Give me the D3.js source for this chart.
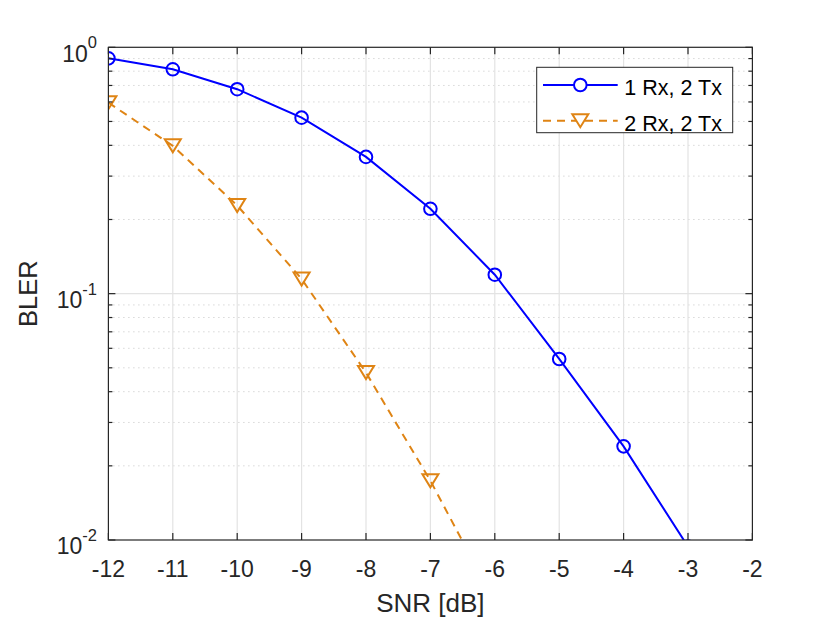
<!DOCTYPE html>
<html>
<head>
<meta charset="utf-8">
<script src="https://cdn.jsdelivr.net/npm/d3@7"></script>
<style>
  body { margin: 0; background: #fff; }
  svg { font-family: "Liberation Sans", Arial, Helvetica, sans-serif; }
</style>
</head>
<body>
<svg id="chart" width="830" height="619"></svg>
<script>
// data
var snr = [-12, -11, -10, -9, -8, -7, -6, -5, -4, -3];
var bler1 = [0.902, 0.814, 0.676, 0.518, 0.359, 0.221, 0.1194, 0.0543, 0.0240, 0.0094];
var snr2 = [-12, -11, -10, -9, -8, -7, -6];
var bler2 = [0.596, 0.398, 0.228, 0.1147, 0.0478, 0.0174, 0.0056];
var xTicks = [-12, -11, -10, -9, -8, -7, -6, -5, -4, -3, -2];
var yTicks = [0.01, 0.1, 1];
var yExp = ["-2", "-1", "0"];
var seriesNames = ["1 Rx, 2 Tx", "2 Rx, 2 Tx"];

var svg = d3.select("#chart"),
  pLeft = 108.4, pRight = 752.4, pTop = 47.3, pBottom = 540;

var axisColor = "#262626",
  blue = "#0000ff",
  orange = "#df8414";

var x = d3.scaleLinear().domain([-12, -2]).range([pLeft, pRight]);
var y = d3.scaleLog().domain([0.01, 1]).range([pBottom, pTop]);

svg.append("defs").append("clipPath").attr("id", "clip")
  .append("rect")
  .attr("x", pLeft).attr("y", pTop)
  .attr("width", pRight - pLeft).attr("height", pBottom - pTop);

// minor values 2..9 per decade
var minor = [];
[0.01, 0.1].forEach(function (d) {
  for (var k = 2; k <= 9; k++) minor.push(d * k);
});

var grid = svg.append("g");
grid.selectAll(".ymin").data(minor).enter().append("line")
  .attr("x1", pLeft).attr("x2", pRight)
  .attr("y1", function (d) { return y(d); })
  .attr("y2", function (d) { return y(d); })
  .attr("stroke", "#c4c4c4")
  .attr("stroke-width", 1)
  .attr("stroke-dasharray", "1,4");

grid.selectAll(".xg").data(xTicks.slice(1, -1)).enter().append("line")
  .attr("x1", function (d) { return x(d); })
  .attr("x2", function (d) { return x(d); })
  .attr("y1", pTop).attr("y2", pBottom)
  .attr("stroke", "#e3e3e3")
  .attr("stroke-width", 1.2);

grid.selectAll(".yg").data([0.1]).enter().append("line")
  .attr("x1", pLeft).attr("x2", pRight)
  .attr("y1", function (d) { return y(d); })
  .attr("y2", function (d) { return y(d); })
  .attr("stroke", "#e3e3e3")
  .attr("stroke-width", 1.2);

// series
var plot = svg.append("g").attr("clip-path", "url(#clip)");

var line = d3.line()
  .x(function (d) { return x(d[0]); })
  .y(function (d) { return y(d[1]); });

var data1 = d3.zip(snr, bler1),
  data2 = d3.zip(snr2, bler2);

plot.append("path")
  .datum(data1)
  .attr("d", line)
  .attr("fill", "none")
  .attr("stroke", blue)
  .attr("stroke-width", 2);

plot.append("path")
  .datum(data2)
  .attr("d", line)
  .attr("fill", "none")
  .attr("stroke", orange)
  .attr("stroke-width", 2)
  .attr("stroke-dasharray", "8,6");

function triangle(cx, cy) {
  var w = 8, h = 6.5;
  return "M" + (cx - w) + "," + (cy - h) + "L" + (cx + w) + "," + (cy - h) +
    "L" + cx + "," + (cy + h) + "Z";
}

plot.selectAll(".c1").data(data1).enter().append("circle")
  .attr("cx", function (d) { return x(d[0]); })
  .attr("cy", function (d) { return y(d[1]); })
  .attr("r", 6.3)
  .attr("fill", "none")
  .attr("stroke", blue)
  .attr("stroke-width", 2);

plot.selectAll(".t2").data(data2).enter().append("path")
  .attr("d", function (d) { return triangle(x(d[0]), y(d[1])); })
  .attr("fill", "none")
  .attr("stroke", orange)
  .attr("stroke-width", 2);

// axes box and ticks
var ax = svg.append("g").attr("stroke", axisColor).attr("stroke-width", 1.2);
ax.append("rect")
  .attr("x", pLeft).attr("y", pTop)
  .attr("width", pRight - pLeft).attr("height", pBottom - pTop)
  .attr("fill", "none");

var tl = 7;
xTicks.forEach(function (d) {
  ax.append("line").attr("x1", x(d)).attr("x2", x(d))
    .attr("y1", pBottom).attr("y2", pBottom - tl);
  ax.append("line").attr("x1", x(d)).attr("x2", x(d))
    .attr("y1", pTop).attr("y2", pTop + tl);
});
yTicks.forEach(function (d) {
  ax.append("line").attr("x1", pLeft).attr("x2", pLeft + tl)
    .attr("y1", y(d)).attr("y2", y(d));
  ax.append("line").attr("x1", pRight).attr("x2", pRight - tl)
    .attr("y1", y(d)).attr("y2", y(d));
});
minor.forEach(function (d) {
  ax.append("line").attr("x1", pLeft).attr("x2", pLeft + 4)
    .attr("y1", y(d)).attr("y2", y(d));
  ax.append("line").attr("x1", pRight).attr("x2", pRight - 4)
    .attr("y1", y(d)).attr("y2", y(d));
});

// tick labels
svg.selectAll(".xl").data(xTicks).enter().append("text")
  .attr("x", function (d) { return x(d); })
  .attr("y", pBottom + 37)
  .attr("text-anchor", "middle")
  .attr("font-size", 23)
  .attr("fill", axisColor)
  .text(function (d) { return d; });

yTicks.forEach(function (d, i) {
  var t = svg.append("text")
    .attr("x", 97)
    .attr("y", y(d) + 14.4)
    .attr("text-anchor", "end")
    .attr("font-size", 23)
    .attr("fill", axisColor);
  t.append("tspan").text("10");
  t.append("tspan").attr("dy", -13.4).attr("font-size", 16.5).text(yExp[i]);
});

// axis labels
svg.append("text")
  .attr("x", (pLeft + pRight) / 2)
  .attr("y", 612)
  .attr("text-anchor", "middle")
  .attr("font-size", 26)
  .attr("fill", axisColor)
  .text("SNR [dB]");

svg.append("text")
  .attr("transform", "translate(36.7," + ((pTop + pBottom) / 2) + ") rotate(-90)")
  .attr("text-anchor", "middle")
  .attr("font-size", 25.5)
  .attr("fill", axisColor)
  .text("BLER");

// legend
var lg = svg.append("g");
lg.append("rect")
  .attr("x", 536.7).attr("y", 67.3)
  .attr("width", 196).attr("height", 65.4)
  .attr("fill", "#fff")
  .attr("stroke", axisColor)
  .attr("stroke-width", 1);

var legendRows = [
  { name: seriesNames[0], color: blue, dash: null, mark: "circle" },
  { name: seriesNames[1], color: orange, dash: "8,6", mark: "tri" }
];
legendRows.forEach(function (r, i) {
  var cy = 85 + i * 35.7;
  lg.append("line")
    .attr("x1", 543).attr("x2", 617.7)
    .attr("y1", cy).attr("y2", cy)
    .attr("stroke", r.color)
    .attr("stroke-width", 2)
    .attr("stroke-dasharray", r.dash);
  if (r.mark === "circle") {
    lg.append("circle").attr("cx", 580.3).attr("cy", cy).attr("r", 6.3)
      .attr("fill", "#fff").attr("stroke", r.color).attr("stroke-width", 2);
  } else {
    lg.append("path").attr("d", triangle(580.3, cy))
      .attr("fill", "#fff").attr("stroke", r.color).attr("stroke-width", 2);
  }
  lg.append("text")
    .attr("x", 624.3).attr("y", cy + 10.2)
    .attr("font-size", 21.5)
    .attr("fill", "#000")
    .text(r.name);
});
</script>
</body>
</html>
